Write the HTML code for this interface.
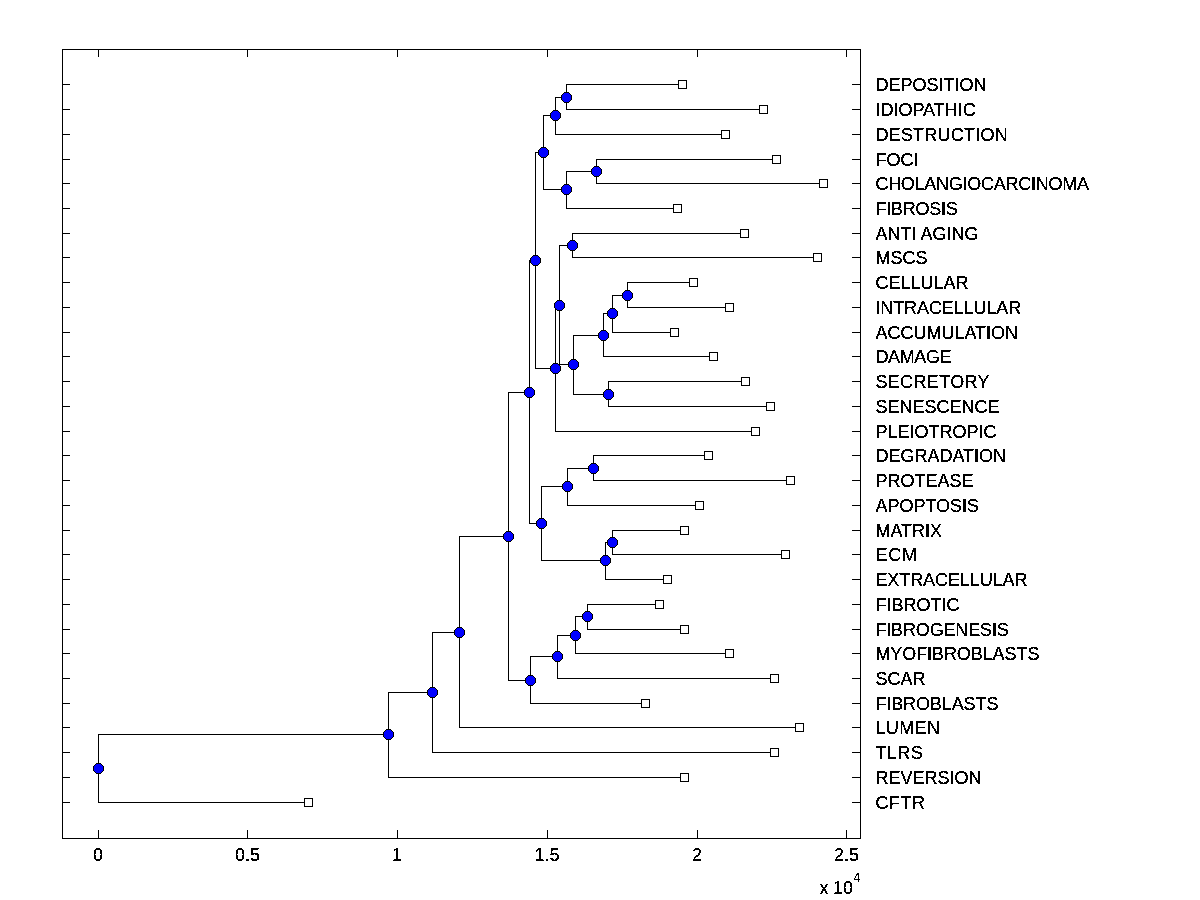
<!DOCTYPE html>
<html><head><meta charset="utf-8"><title>Phylogenetic tree</title>
<style>
html,body{margin:0;padding:0;background:#fff}
svg{display:block}
.g{shape-rendering:crispEdges;stroke-width:1}
.lab text{font-family:"Liberation Sans",Arial,Helvetica,sans-serif;font-size:18px;letter-spacing:0px;fill:#000}
.tk text{font-family:"Liberation Sans",Arial,Helvetica,sans-serif;font-size:18px;letter-spacing:0px;fill:#000;text-anchor:middle}
</style></head><body>
<svg width="1200" height="900" viewBox="0 0 1200 900">
<defs><filter id="th" x="0" y="0" width="100%" height="100%" filterUnits="userSpaceOnUse" color-interpolation-filters="sRGB"><feComponentTransfer><feFuncA type="discrete" tableValues="0 1 1"/></feComponentTransfer></filter><filter id="th2" x="0" y="0" width="100%" height="100%" filterUnits="userSpaceOnUse" color-interpolation-filters="sRGB"><feComponentTransfer><feFuncA type="discrete" tableValues="0 0 0 1 1 1"/></feComponentTransfer></filter></defs>
<rect width="1200" height="900" fill="#fff"/>
<g class="g">
<rect x="62.5" y="49.5" width="798.0" height="789.0" fill="#fff" stroke="#000"/>
<path d="M98.5 49.5v7M98.5 838.5v-9M247.5 49.5v7M247.5 838.5v-9M397.5 49.5v7M397.5 838.5v-9M547.5 49.5v7M547.5 838.5v-9M697.5 49.5v7M697.5 838.5v-9M846.5 49.5v7M846.5 838.5v-9M62.5 84.5h7M860.5 84.5h-9M62.5 109.5h7M860.5 109.5h-9M62.5 134.5h7M860.5 134.5h-9M62.5 159.5h7M860.5 159.5h-9M62.5 183.5h7M860.5 183.5h-9M62.5 208.5h7M860.5 208.5h-9M62.5 233.5h7M860.5 233.5h-9M62.5 257.5h7M860.5 257.5h-9M62.5 282.5h7M860.5 282.5h-9M62.5 307.5h7M860.5 307.5h-9M62.5 332.5h7M860.5 332.5h-9M62.5 356.5h7M860.5 356.5h-9M62.5 381.5h7M860.5 381.5h-9M62.5 406.5h7M860.5 406.5h-9M62.5 431.5h7M860.5 431.5h-9M62.5 455.5h7M860.5 455.5h-9M62.5 480.5h7M860.5 480.5h-9M62.5 505.5h7M860.5 505.5h-9M62.5 530.5h7M860.5 530.5h-9M62.5 554.5h7M860.5 554.5h-9M62.5 579.5h7M860.5 579.5h-9M62.5 604.5h7M860.5 604.5h-9M62.5 629.5h7M860.5 629.5h-9M62.5 653.5h7M860.5 653.5h-9M62.5 678.5h7M860.5 678.5h-9M62.5 703.5h7M860.5 703.5h-9M62.5 727.5h7M860.5 727.5h-9M62.5 752.5h7M860.5 752.5h-9M62.5 777.5h7M860.5 777.5h-9M62.5 802.5h7M860.5 802.5h-9" stroke="#000" fill="none"/>
<path d="M682.5 84.5H566.5V109.5H763.5M566.5 97.5H555.5V134.5H725.5M776.5 159.5H596.5V183.5H823.5M596.5 171.5H566.5V208.5H677.5M555.5 115.5H543.5V189.5H566.5M744.5 233.5H572.5V257.5H817.5M693.5 282.5H627.5V307.5H729.5M627.5 295.5H612.5V332.5H674.5M612.5 313.5H603.5V356.5H713.5M745.5 381.5H608.5V406.5H770.5M603.5 335.5H573.5V394.5H608.5M572.5 245.5H559.5V364.5H573.5M559.5 305.5H555.5V431.5H755.5M543.5 152.5H535.5V368.5H555.5M708.5 455.5H593.5V480.5H790.5M593.5 468.5H567.5V505.5H699.5M684.5 530.5H612.5V554.5H785.5M612.5 542.5H605.5V579.5H667.5M567.5 486.5H541.5V560.5H605.5M535.5 260.5H529.5V523.5H541.5M659.5 604.5H587.5V629.5H684.5M587.5 616.5H575.5V653.5H729.5M575.5 635.5H557.5V678.5H774.5M557.5 656.5H530.5V703.5H645.5M529.5 392.5H508.5V680.5H530.5M508.5 536.5H459.5V727.5H799.5M459.5 632.5H432.5V752.5H774.5M432.5 692.5H388.5V777.5H684.5M388.5 734.5H98.5V802.5H308.5" stroke="#000" fill="none"/>
<rect x="678.5" y="80.5" width="8" height="8" fill="#fff" stroke="#000"/>
<rect x="759.5" y="105.5" width="8" height="8" fill="#fff" stroke="#000"/>
<rect x="721.5" y="130.5" width="8" height="8" fill="#fff" stroke="#000"/>
<rect x="772.5" y="155.5" width="8" height="8" fill="#fff" stroke="#000"/>
<rect x="819.5" y="179.5" width="8" height="8" fill="#fff" stroke="#000"/>
<rect x="673.5" y="204.5" width="8" height="8" fill="#fff" stroke="#000"/>
<rect x="740.5" y="229.5" width="8" height="8" fill="#fff" stroke="#000"/>
<rect x="813.5" y="253.5" width="8" height="8" fill="#fff" stroke="#000"/>
<rect x="689.5" y="278.5" width="8" height="8" fill="#fff" stroke="#000"/>
<rect x="725.5" y="303.5" width="8" height="8" fill="#fff" stroke="#000"/>
<rect x="670.5" y="328.5" width="8" height="8" fill="#fff" stroke="#000"/>
<rect x="709.5" y="352.5" width="8" height="8" fill="#fff" stroke="#000"/>
<rect x="741.5" y="377.5" width="8" height="8" fill="#fff" stroke="#000"/>
<rect x="766.5" y="402.5" width="8" height="8" fill="#fff" stroke="#000"/>
<rect x="751.5" y="427.5" width="8" height="8" fill="#fff" stroke="#000"/>
<rect x="704.5" y="451.5" width="8" height="8" fill="#fff" stroke="#000"/>
<rect x="786.5" y="476.5" width="8" height="8" fill="#fff" stroke="#000"/>
<rect x="695.5" y="501.5" width="8" height="8" fill="#fff" stroke="#000"/>
<rect x="680.5" y="526.5" width="8" height="8" fill="#fff" stroke="#000"/>
<rect x="781.5" y="550.5" width="8" height="8" fill="#fff" stroke="#000"/>
<rect x="663.5" y="575.5" width="8" height="8" fill="#fff" stroke="#000"/>
<rect x="655.5" y="600.5" width="8" height="8" fill="#fff" stroke="#000"/>
<rect x="680.5" y="625.5" width="8" height="8" fill="#fff" stroke="#000"/>
<rect x="725.5" y="649.5" width="8" height="8" fill="#fff" stroke="#000"/>
<rect x="770.5" y="674.5" width="8" height="8" fill="#fff" stroke="#000"/>
<rect x="641.5" y="699.5" width="8" height="8" fill="#fff" stroke="#000"/>
<rect x="795.5" y="723.5" width="8" height="8" fill="#fff" stroke="#000"/>
<rect x="770.5" y="748.5" width="8" height="8" fill="#fff" stroke="#000"/>
<rect x="680.5" y="773.5" width="8" height="8" fill="#fff" stroke="#000"/>
<rect x="304.5" y="798.5" width="8" height="8" fill="#fff" stroke="#000"/>
<polygon points="564.5,92.5 568.5,92.5 571.5,95.5 571.5,99.5 568.5,102.5 564.5,102.5 561.5,99.5 561.5,95.5" fill="#00f" stroke="#000"/>
<polygon points="553.5,110.5 557.5,110.5 560.5,113.5 560.5,117.5 557.5,120.5 553.5,120.5 550.5,117.5 550.5,113.5" fill="#00f" stroke="#000"/>
<polygon points="594.5,166.5 598.5,166.5 601.5,169.5 601.5,173.5 598.5,176.5 594.5,176.5 591.5,173.5 591.5,169.5" fill="#00f" stroke="#000"/>
<polygon points="564.5,184.5 568.5,184.5 571.5,187.5 571.5,191.5 568.5,194.5 564.5,194.5 561.5,191.5 561.5,187.5" fill="#00f" stroke="#000"/>
<polygon points="541.5,147.5 545.5,147.5 548.5,150.5 548.5,154.5 545.5,157.5 541.5,157.5 538.5,154.5 538.5,150.5" fill="#00f" stroke="#000"/>
<polygon points="570.5,240.5 574.5,240.5 577.5,243.5 577.5,247.5 574.5,250.5 570.5,250.5 567.5,247.5 567.5,243.5" fill="#00f" stroke="#000"/>
<polygon points="625.5,290.5 629.5,290.5 632.5,293.5 632.5,297.5 629.5,300.5 625.5,300.5 622.5,297.5 622.5,293.5" fill="#00f" stroke="#000"/>
<polygon points="610.5,308.5 614.5,308.5 617.5,311.5 617.5,315.5 614.5,318.5 610.5,318.5 607.5,315.5 607.5,311.5" fill="#00f" stroke="#000"/>
<polygon points="601.5,330.5 605.5,330.5 608.5,333.5 608.5,337.5 605.5,340.5 601.5,340.5 598.5,337.5 598.5,333.5" fill="#00f" stroke="#000"/>
<polygon points="606.5,389.5 610.5,389.5 613.5,392.5 613.5,396.5 610.5,399.5 606.5,399.5 603.5,396.5 603.5,392.5" fill="#00f" stroke="#000"/>
<polygon points="571.5,359.5 575.5,359.5 578.5,362.5 578.5,366.5 575.5,369.5 571.5,369.5 568.5,366.5 568.5,362.5" fill="#00f" stroke="#000"/>
<polygon points="557.5,300.5 561.5,300.5 564.5,303.5 564.5,307.5 561.5,310.5 557.5,310.5 554.5,307.5 554.5,303.5" fill="#00f" stroke="#000"/>
<polygon points="553.5,363.5 557.5,363.5 560.5,366.5 560.5,370.5 557.5,373.5 553.5,373.5 550.5,370.5 550.5,366.5" fill="#00f" stroke="#000"/>
<polygon points="533.5,255.5 537.5,255.5 540.5,258.5 540.5,262.5 537.5,265.5 533.5,265.5 530.5,262.5 530.5,258.5" fill="#00f" stroke="#000"/>
<polygon points="591.5,463.5 595.5,463.5 598.5,466.5 598.5,470.5 595.5,473.5 591.5,473.5 588.5,470.5 588.5,466.5" fill="#00f" stroke="#000"/>
<polygon points="565.5,481.5 569.5,481.5 572.5,484.5 572.5,488.5 569.5,491.5 565.5,491.5 562.5,488.5 562.5,484.5" fill="#00f" stroke="#000"/>
<polygon points="610.5,537.5 614.5,537.5 617.5,540.5 617.5,544.5 614.5,547.5 610.5,547.5 607.5,544.5 607.5,540.5" fill="#00f" stroke="#000"/>
<polygon points="603.5,555.5 607.5,555.5 610.5,558.5 610.5,562.5 607.5,565.5 603.5,565.5 600.5,562.5 600.5,558.5" fill="#00f" stroke="#000"/>
<polygon points="539.5,518.5 543.5,518.5 546.5,521.5 546.5,525.5 543.5,528.5 539.5,528.5 536.5,525.5 536.5,521.5" fill="#00f" stroke="#000"/>
<polygon points="527.5,387.5 531.5,387.5 534.5,390.5 534.5,394.5 531.5,397.5 527.5,397.5 524.5,394.5 524.5,390.5" fill="#00f" stroke="#000"/>
<polygon points="585.5,611.5 589.5,611.5 592.5,614.5 592.5,618.5 589.5,621.5 585.5,621.5 582.5,618.5 582.5,614.5" fill="#00f" stroke="#000"/>
<polygon points="573.5,630.5 577.5,630.5 580.5,633.5 580.5,637.5 577.5,640.5 573.5,640.5 570.5,637.5 570.5,633.5" fill="#00f" stroke="#000"/>
<polygon points="555.5,651.5 559.5,651.5 562.5,654.5 562.5,658.5 559.5,661.5 555.5,661.5 552.5,658.5 552.5,654.5" fill="#00f" stroke="#000"/>
<polygon points="528.5,675.5 532.5,675.5 535.5,678.5 535.5,682.5 532.5,685.5 528.5,685.5 525.5,682.5 525.5,678.5" fill="#00f" stroke="#000"/>
<polygon points="506.5,531.5 510.5,531.5 513.5,534.5 513.5,538.5 510.5,541.5 506.5,541.5 503.5,538.5 503.5,534.5" fill="#00f" stroke="#000"/>
<polygon points="457.5,627.5 461.5,627.5 464.5,630.5 464.5,634.5 461.5,637.5 457.5,637.5 454.5,634.5 454.5,630.5" fill="#00f" stroke="#000"/>
<polygon points="430.5,687.5 434.5,687.5 437.5,690.5 437.5,694.5 434.5,697.5 430.5,697.5 427.5,694.5 427.5,690.5" fill="#00f" stroke="#000"/>
<polygon points="386.5,729.5 390.5,729.5 393.5,732.5 393.5,736.5 390.5,739.5 386.5,739.5 383.5,736.5 383.5,732.5" fill="#00f" stroke="#000"/>
<polygon points="96.5,763.5 100.5,763.5 103.5,766.5 103.5,770.5 100.5,773.5 96.5,773.5 93.5,770.5 93.5,766.5" fill="#00f" stroke="#000"/>
</g>
<g class="lab" filter="url(#th)">
<text x="875.4" y="91.0">DEPOSITION</text>
<text x="875.4" y="116.0">IDIOPATHIC</text>
<text x="875.4" y="141.0" style="letter-spacing:0.24px">DESTRUCTION</text>
<text x="875.4" y="166.0">FOCI</text>
<text x="875.4" y="190.0" style="letter-spacing:-0.26px">CHOLANGIOCARCINOMA</text>
<text x="875.4" y="215.0" style="letter-spacing:-0.23px">FIBROSIS</text>
<text x="875.4" y="240.0">ANTI AGING</text>
<text x="875.4" y="264.0">MSCS</text>
<text x="875.4" y="289.0">CELLULAR</text>
<text x="875.4" y="314.0" style="letter-spacing:-0.10px">INTRACELLULAR</text>
<text x="875.4" y="339.0">ACCUMULATION</text>
<text x="875.4" y="363.0" style="letter-spacing:-0.36px">DAMAGE</text>
<text x="875.4" y="388.0" style="letter-spacing:0.35px">SECRETORY</text>
<text x="875.4" y="413.0">SENESCENCE</text>
<text x="875.4" y="438.0">PLEIOTROPIC</text>
<text x="875.4" y="462.0">DEGRADATION</text>
<text x="875.4" y="487.0">PROTEASE</text>
<text x="875.4" y="512.0">APOPTOSIS</text>
<text x="875.4" y="537.0">MATRIX</text>
<text x="875.4" y="561.0" style="letter-spacing:0.80px">ECM</text>
<text x="875.4" y="586.0" style="letter-spacing:-0.08px">EXTRACELLULAR</text>
<text x="875.4" y="611.0">FIBROTIC</text>
<text x="875.4" y="636.0" style="letter-spacing:-0.15px">FIBROGENESIS</text>
<text x="875.4" y="660.0" style="letter-spacing:-0.08px">MYOFIBROBLASTS</text>
<text x="875.4" y="685.0">SCAR</text>
<text x="875.4" y="710.0" style="letter-spacing:-0.10px">FIBROBLASTS</text>
<text x="875.4" y="734.0" style="letter-spacing:0.38px">LUMEN</text>
<text x="875.4" y="759.0" style="letter-spacing:0.47px">TLRS</text>
<text x="875.4" y="784.0">REVERSION</text>
<text x="875.4" y="809.0" style="letter-spacing:0.57px">CFTR</text>
</g>
<g class="tk" filter="url(#th)">
<text x="98.05" y="860.5">0</text>
<text x="247.55" y="860.5">0.5</text>
<text x="397.05" y="860.5">1</text>
<text x="547.05" y="860.5">1.5</text>
<text x="697.05" y="860.5">2</text>
<text x="846.55" y="860.5">2.5</text>
<text x="819.6" y="894" style="text-anchor:start">x<tspan dx="-0.55"> 10</tspan></text>
</g>
<g class="tk" filter="url(#th2)">
<text x="853.3" y="882" style="text-anchor:start;font-size:12.3px">4</text>
</g>
</svg>
</body></html>
